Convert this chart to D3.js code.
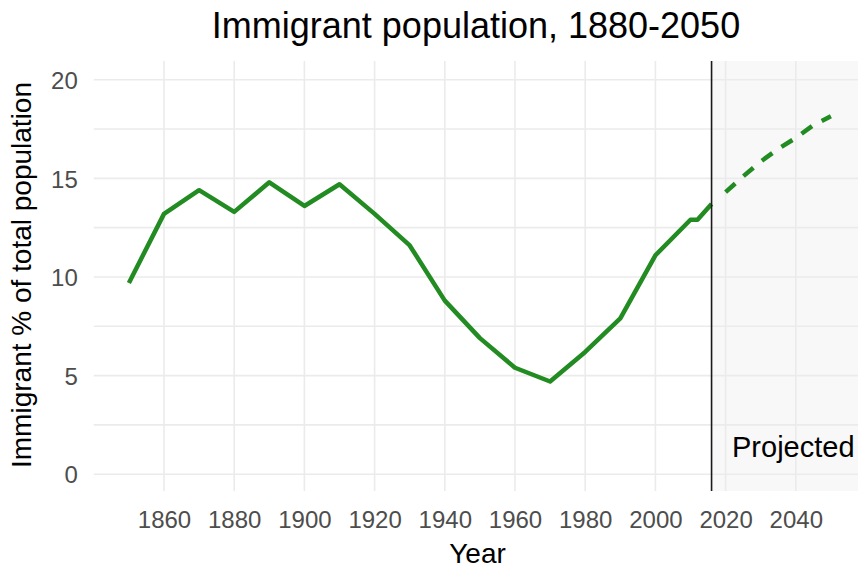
<!DOCTYPE html>
<html>
<head>
<meta charset="utf-8">
<script src="https://cdn.jsdelivr.net/npm/d3@7"></script>
<style>
  body { margin: 0; background: #fff; }
  svg { display: block; font-family: 'Liberation Sans', Arial, sans-serif; }
</style>
</head>
<body>
<svg></svg>
<script>
//Historical data (census years)
let histYears  = [1850, 1860, 1870, 1880, 1890, 1900, 1910, 1920, 1930, 1940, 1950, 1960, 1970, 1980, 1990, 2000, 2010, 2012, 2016];
let histValues = [9.7, 13.2, 14.4, 13.3, 14.8, 13.6, 14.7, 13.2, 11.6, 8.8, 6.9, 5.4, 4.7, 6.2, 7.9, 11.1, 12.9, 12.9, 13.7];

//Projected data
let projYears  = [2020, 2025, 2030, 2035, 2040, 2045, 2050];
let projValues = [14.3, 15.1, 15.85, 16.5, 17.05, 17.7, 18.15];

//Tick labels
let xTicks = [1860, 1880, 1900, 1920, 1940, 1960, 1980, 2000, 2020, 2040];
let yTicks = [0, 5, 10, 15, 20];
let yGrid  = [0, 2.5, 5, 7.5, 10, 12.5, 15, 17.5, 20];

let projStart = 2016;

//Texts
let title = 'Immigrant population, 1880-2050';
let xTitle = 'Year';
let yTitle = 'Immigrant % of total population';
let projLabel = 'Projected';

//Canvas Dimension
let canvasDimension = { width: 858, height: 570 };

//Panel area
let panel = { left: 93.8, right: 866, top: 61, bottom: 491 };

let xScale;
let yScale;

let svg = d3.select('svg');

function drawCanvas(){
    svg.attr('width', canvasDimension.width);
    svg.attr('height', canvasDimension.height);
}

function generateScale(){
    xScale = d3.scaleLinear()
               .domain([1840, 2060])
               .range([panel.left, panel.right]);

    yScale = d3.scaleLinear()
               .domain([-0.85, 20.95])
               .range([panel.bottom, panel.top]);
}

//Shaded projection area + grid
function drawPanel(){
    svg.append('rect')
       .attr('x', xScale(projStart))
       .attr('y', panel.top)
       .attr('width', panel.right - xScale(projStart))
       .attr('height', panel.bottom - panel.top)
       .attr('fill', '#f8f8f8');

    svg.append('g')
       .selectAll('line')
       .data(yGrid)
       .enter()
       .append('line')
       .attr('x1', panel.left)
       .attr('x2', panel.right)
       .attr('y1', (d) => yScale(d))
       .attr('y2', (d) => yScale(d))
       .attr('stroke', '#ebebeb')
       .attr('stroke-width', 1.6);

    svg.append('g')
       .selectAll('line')
       .data(xTicks)
       .enter()
       .append('line')
       .attr('x1', (d) => xScale(d))
       .attr('x2', (d) => xScale(d))
       .attr('y1', panel.top)
       .attr('y2', panel.bottom)
       .attr('stroke', '#ebebeb')
       .attr('stroke-width', 1.6);
}

function generateAxis(){
    let xAxis = d3.axisBottom(xScale)
                  .tickValues(xTicks)
                  .tickFormat(d3.format('d'))
                  .tickSize(0)
                  .tickPadding(20);
    let yAxis = d3.axisLeft(yScale)
                  .tickValues(yTicks)
                  .tickSize(0)
                  .tickPadding(16);

    let gx = svg.append('g')
                .attr('id', 'x-axis')
                .attr('transform', 'translate(0, ' + panel.bottom + ')')
                .call(xAxis);
    let gy = svg.append('g')
                .attr('id', 'y-axis')
                .attr('transform', 'translate(' + panel.left + ', 0)')
                .call(yAxis);

    [gx, gy].forEach((g) => {
        g.select('.domain').remove();
        g.selectAll('text')
         .attr('fill', '#4d4d4d')
         .style('font-size', '24px')
         .style('font-family', "'Liberation Sans', Arial, sans-serif");
    });
    gy.selectAll('text').attr('dy', '0.36em');
}

function drawGraph(){
    let line = d3.line()
                 .x((d) => xScale(d[0]))
                 .y((d) => yScale(d[1]));

    svg.append('path')
       .datum(histYears.map((y, i) => [y, histValues[i]]))
       .attr('d', line)
       .attr('fill', 'none')
       .attr('stroke', '#228b22')
       .attr('stroke-width', 4.5)
       .attr('stroke-linejoin', 'round');

    svg.append('path')
       .datum(projYears.map((y, i) => [y, projValues[i]]))
       .attr('d', line)
       .attr('fill', 'none')
       .attr('stroke', '#228b22')
       .attr('stroke-width', 4.5)
       .attr('stroke-dasharray', '13,11')
       .attr('stroke-linejoin', 'round');

    //projection start line
    svg.append('line')
       .attr('x1', xScale(projStart))
       .attr('x2', xScale(projStart))
       .attr('y1', panel.top)
       .attr('y2', panel.bottom)
       .attr('stroke', '#1a1a1a')
       .attr('stroke-width', 1.6);
}

function drawText(){
    svg.append('text')
       .attr('x', 476)
       .attr('y', 38)
       .attr('text-anchor', 'middle')
       .style('font-size', '36px')
       .text(title);

    svg.append('text')
       .attr('x', 477.5)
       .attr('y', 563)
       .attr('text-anchor', 'middle')
       .style('font-size', '28px')
       .text(xTitle);

    svg.append('text')
       .attr('transform', 'rotate(-90)')
       .attr('x', -275)
       .attr('y', 31)
       .attr('text-anchor', 'middle')
       .style('font-size', '28px')
       .text(yTitle);

    svg.append('text')
       .attr('x', 732)
       .attr('y', 456.5)
       .style('font-size', '29px')
       .text(projLabel);
}

drawCanvas();
generateScale();
drawPanel();
generateAxis();
drawGraph();
drawText();
</script>
</body>
</html>
